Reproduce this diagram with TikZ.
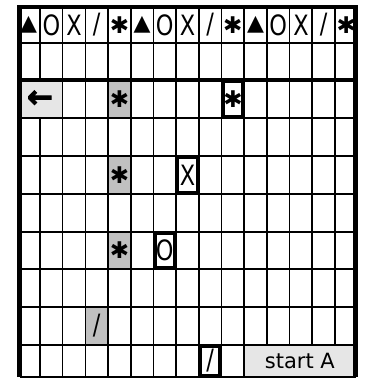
\documentclass[tikz,border=0pt]{standalone}
\usepackage{fontspec}
\setmainfont{DejaVu Sans}
\newfontfamily\narrowfont[FakeStretch=0.8]{DejaVu Sans}
\newfontfamily\heavyfont[FakeBold=3]{DejaVu Sans Bold}
\usetikzlibrary{positioning}
\definecolor{cellgray}{HTML}{C0C0C0}
\definecolor{palegray}{HTML}{E6E6E6}
\newcommand{\symtri}{{\normalfont\fontsize{22}{22}\selectfont ▲}}
\newcommand{\symast}{{\normalfont\fontsize{23}{23}\selectfont ✱}}
\newcommand{\symslash}{/}

\begin{document}
\begin{tikzpicture}[
    x=1pt, y=-1pt,
    every node/.style={inner sep=0pt, font=\narrowfont\fontsize{28}{28}\selectfont},
    cell/.style={minimum width=22.69pt, minimum height=37.9pt},
    shaded/.style={cell, fill=cellgray},
    pale/.style={fill=palegray, font=\normalfont\fontsize{21}{21}\selectfont},
    boxed/.style={draw=black, line width=3.2pt, fill=white, minimum width=19.4pt, minimum height=34.6pt},
    gridline/.style={line width=1.6pt},
    frameline/.style={line width=4.8pt}
]
\useasboundingbox (0,0) rectangle (368,379);

% --- grey cells ---
\node[pale, minimum width=45.4pt, minimum height=38pt, font=\heavyfont\fontsize{31}{31}\selectfont] (back) at (40,99) {←};
\node[pale, minimum width=111.3pt, minimum height=32pt] (start) at (299.85,361) {start A};
\node[shaded] (ast-a) at (119.4,99) {\symast};
\node[shaded] (ast-b) at (119.4,175) {\symast};
\node[shaded] (ast-c) at (119.4,250.5) {\symast};
\node[shaded] (slash-a) at (96.7,326) {/};

% --- grid ---
\foreach \y in {43,118,156,194,232,269,307,345}
    \draw[gridline] (19.5,\y) -- (355.5,\y);
\foreach \i in {2,...,10}
    \draw[gridline] ({17.3+22.69*\i},7) -- ({17.3+22.69*\i},377);
\foreach \i in {11,...,14}
    \draw[gridline] ({17.3+22.69*\i},7) -- ({17.3+22.69*\i},345);
\draw[gridline] (40,7) -- (40,80);
\draw[gridline] (40,118) -- (40,377);

% --- top row ---
\foreach \g [count=\i] in {\symtri,O,X,\symslash,\symast,\symtri,O,X,\symslash,\symast,\symtri,O,X,\symslash,\symast}
    \node (top-\i) at ({5.955+22.69*\i},25) {\g};

% --- boxed cells ---
\node[boxed] (ast-box) at (232.9,99) {\symast};
\node[boxed] (x-box) at (187.5,175) {X};
\node[boxed] (o-box) at (164.8,250.5) {O};
\node[boxed, minimum height=29pt] (slash-box) at (210.2,361) {/};

% --- frame ---
\draw[frameline] (19.5,377) -- (19.5,7) -- (355.5,7) -- (355.5,377);
\draw[frameline] (19.5,80) -- (355.5,80);
\draw[line width=2pt] (19.5,377) -- (355.5,377);
\end{tikzpicture}
\end{document}
